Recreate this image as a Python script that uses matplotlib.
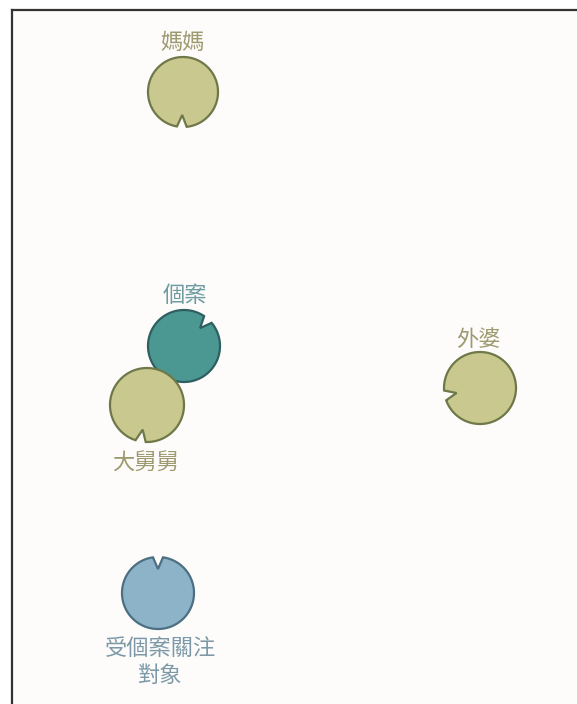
import numpy as np
import matplotlib.pyplot as plt
from matplotlib.patches import Polygon

plt.rcParams['font.family'] = ['Noto Sans CJK TC', 'DejaVu Sans']

# node data (picture pixel coordinates)
names = ['媽媽', '個案', '大舅舅', '外婆', '受個案關注\n對象']
xs = [183, 184, 147, 480, 158]
ys = [92, 346, 405, 388, 593]
radii = [35, 36, 37, 36, 36]
notch_deg = [-92, 48, -100, 192, 90]
kinds = ['family', 'case', 'family', 'family', 'focus']
label_x = [183, 185, 145, 478, 160]
label_y = [42, 295, 462, 340, 662]

fills = {'family': '#c9c98f', 'case': '#4b9893', 'focus': '#8db3c8'}
edges = {'family': '#6f7849', 'case': '#2f5f60', 'focus': '#4d6f82'}
text_cols = {'family': '#9e9a70', 'case': '#6e9ca2', 'focus': '#7d99a8'}

fig = plt.figure(figsize=(5.77, 7.04), dpi=100)
ax = fig.add_axes([12 / 577, 0, 1 - 12 / 577, 694 / 704])
ax.set_xlim(12, 577)
ax.set_ylim(704, 10)
ax.set_facecolor('#fdfcfa')
ax.set_xticks([])
ax.set_yticks([])
for s in ['right', 'bottom']:
    ax.spines[s].set_visible(False)
for s in ['left', 'top']:
    ax.spines[s].set_linewidth(1.6)
    ax.spines[s].set_color('#333333')


def notched_circle(cx, cy, r, ang, half=8, depth=12):
    # perimeter minus a small V cut at angle ang (screen y is down)
    t = np.radians(np.linspace(ang + half, ang + 360 - half, 200))
    px = cx + r * np.cos(t)
    py = cy - r * np.sin(t)
    a = np.radians(ang)
    ix = cx + (r - depth) * np.cos(a)
    iy = cy - (r - depth) * np.sin(a)
    return np.vstack([np.append(px, ix), np.append(py, iy)]).T


for i in range(len(names)):
    k = kinds[i]
    pts = notched_circle(xs[i], ys[i], radii[i], notch_deg[i])
    ax.add_patch(Polygon(pts, closed=True, facecolor=fills[k],
                         edgecolor=edges[k], linewidth=1.6, zorder=3))
    ax.text(label_x[i], label_y[i], names[i], ha='center', va='center',
            fontsize=16, color=text_cols[k], linespacing=1.25, zorder=4)

fig.savefig('out.png', dpi=100, facecolor='white')
